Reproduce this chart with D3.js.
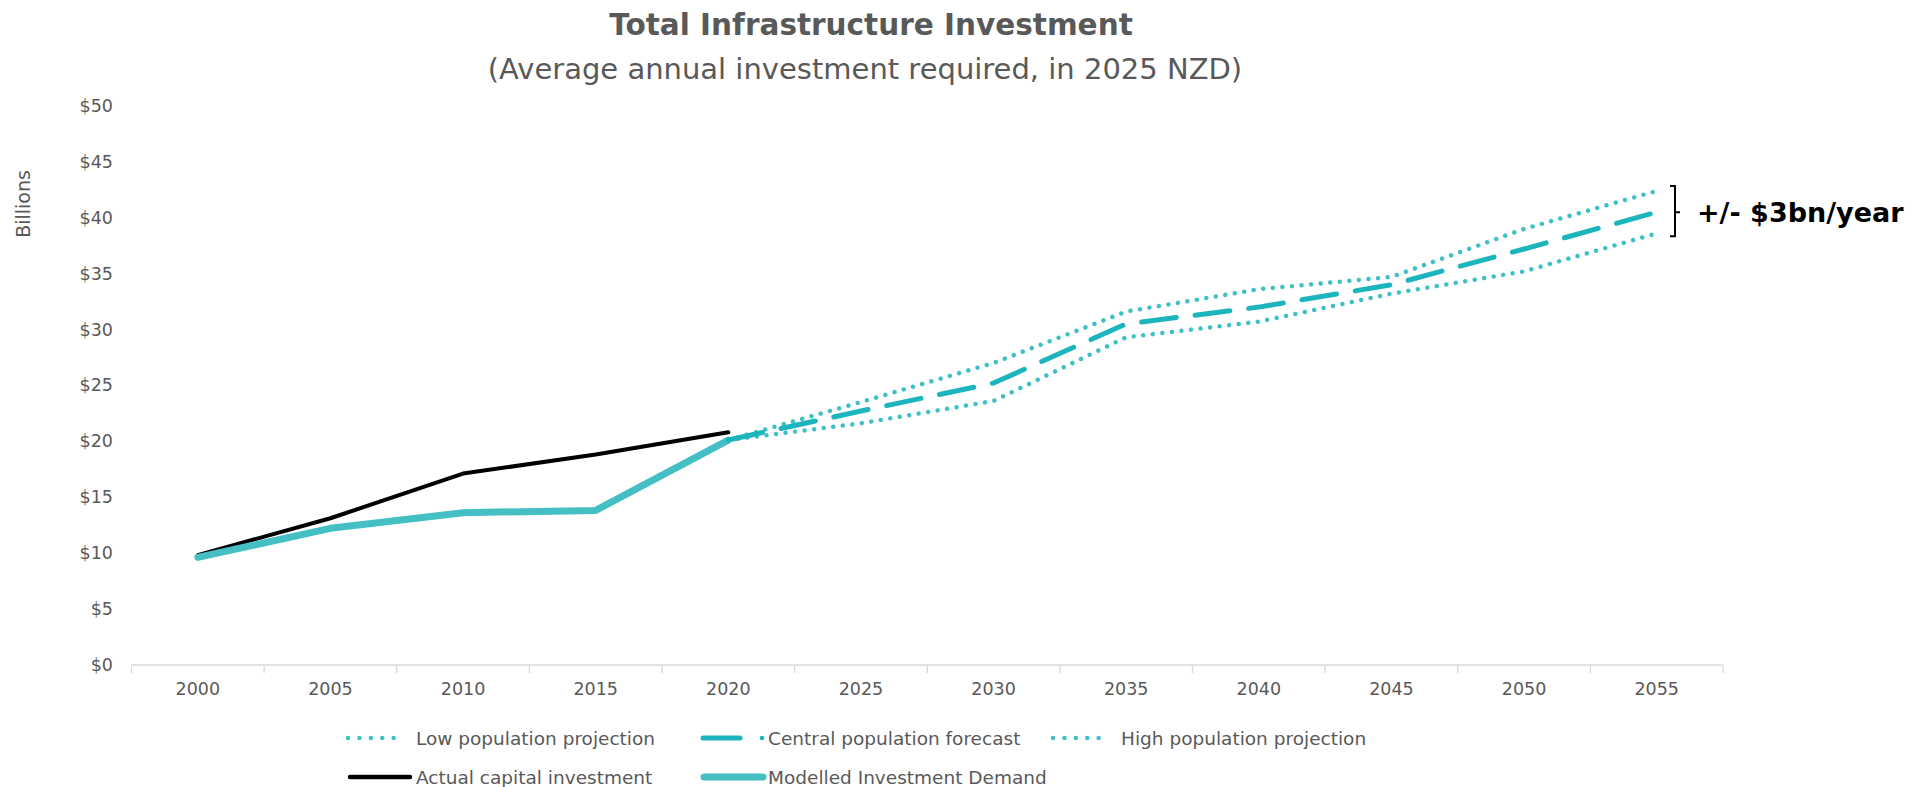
<!DOCTYPE html>
<html>
<head>
<meta charset="utf-8">
<script src="https://cdn.jsdelivr.net/npm/d3@7"></script>
<style>
	body { margin: 0; background: #ffffff; }
	svg text { font-family: "DejaVu Sans", Verdana, sans-serif; }
	.tick text { fill: #595959; font-size: 17.5px; }
</style>
</head>
<body>
<svg id="chart" width="1912" height="787"></svg>
<script>
// categories on the x axis
const years = ["2000","2005","2010","2015","2020","2025","2030","2035","2040","2045","2050","2055"];

// historic series (2000 - 2020)
const actualYears = ["2000","2005","2010","2015","2020"];
const actualValues = [9.8, 13.1, 17.1, 18.8, 20.8];
const modelledValues = [9.6, 12.2, 13.6, 13.8, 20.1];

// projections (2020 - 2055)
const projYears = ["2020","2025","2030","2035","2040","2045","2050","2055"];
const lowValues = [20.1, 21.6, 23.6, 29.3, 30.7, 33.2, 35.2, 38.6];
const centralValues = [20.1, 22.7, 25.2, 30.5, 32.0, 34.0, 37.2, 40.5];
const highValues = [20.1, 23.5, 27.0, 31.6, 33.6, 34.7, 39.0, 42.4];

const yTicks = [0, 5, 10, 15, 20, 25, 30, 35, 40, 45, 50];

const svg = d3.select("#chart");

const x = d3.scaleBand().domain(years).range([131.5, 1723]).padding(0);
const y = d3.scaleLinear().domain([0, 50]).range([664.6, 106]);
const cx = d => x(d) + x.bandwidth() / 2;

// titles
svg.append("text").attr("x", 871).attr("y", 35).attr("text-anchor", "middle")
	.style("font-size", "29.5px").style("font-weight", "bold").attr("fill", "#595959")
	.text("Total Infrastructure Investment");
svg.append("text").attr("x", 865).attr("y", 79).attr("text-anchor", "middle")
	.style("font-size", "29px").attr("fill", "#595959")
	.text("(Average annual investment required, in 2025 NZD)");

// y axis (labels only)
const yAxis = svg.append("g").attr("transform", "translate(113,0)")
	.call(d3.axisLeft(y).tickValues(yTicks).tickSize(0).tickPadding(0).tickFormat(d => "$" + d));
yAxis.select(".domain").remove();

svg.append("text").attr("transform", "translate(30,204) rotate(-90)")
	.attr("text-anchor", "middle").style("font-size", "19px").attr("fill", "#595959")
	.text("Billions");

// x axis, ticks between categories
const xg = svg.append("g").attr("transform", "translate(0,665)");
xg.append("line").attr("x1", x.range()[0]).attr("x2", x.range()[1])
	.attr("stroke", "#d9d9d9").attr("stroke-width", 1.3);
const bounds = years.map(d => x(d)).concat([x.range()[1]]);
xg.selectAll("line.tk").data(bounds).join("line").attr("class", "tk")
	.attr("x1", d => d).attr("x2", d => d).attr("y1", 0).attr("y2", 8)
	.attr("stroke", "#d9d9d9").attr("stroke-width", 1.3);
xg.selectAll("text").data(years).join("text")
	.attr("x", d => cx(d)).attr("y", 30).attr("text-anchor", "middle")
	.style("font-size", "17.5px").attr("fill", "#595959").text(d => d);

const line = d3.line().x(d => cx(d[0])).y(d => y(d[1]));

const dotted = { stroke: "#3fc0c6", width: 4.5, dash: "0.01 9.6", cap: "round" };
const dashed = { stroke: "#1db5bd", width: 5, dash: "35 19", cap: "round" };

function drawSeries(xs, vals, st) {
	svg.append("path").datum(d3.zip(xs, vals)).attr("d", line)
		.attr("fill", "none").attr("stroke", st.stroke).attr("stroke-width", st.width)
		.attr("stroke-dasharray", st.dash || null).attr("stroke-linecap", st.cap || "butt")
		.attr("stroke-linejoin", "round");
}

drawSeries(actualYears, actualValues, { stroke: "#000000", width: 4, cap: "round" });
drawSeries(actualYears, modelledValues, { stroke: "#44bfc4", width: 7, cap: "round" });
drawSeries(projYears, lowValues, dotted);
drawSeries(projYears, highValues, dotted);
drawSeries(projYears, centralValues, dashed);

// bracket annotation
const hiEnd = y(highValues[highValues.length - 1]);
const loEnd = y(lowValues[lowValues.length - 1]);
const bx = 1670, mid = (hiEnd + loEnd) / 2;
svg.append("path")
	.attr("d", `M${bx},${hiEnd - 5} H${bx + 5} V${loEnd + 3} H${bx} M${bx + 5},${mid} H${bx + 10}`)
	.attr("fill", "none").attr("stroke", "#000").attr("stroke-width", 2);
svg.append("text").attr("x", 1697).attr("y", mid + 10)
	.style("font-size", "27px").style("font-weight", "bold").attr("fill", "#000")
	.text("+/- $3bn/year");

// legend
const legend = [
	{ label: "Low population projection", x: 348, row: 0, type: "dots" },
	{ label: "Central population forecast", x: 701, row: 0, type: "dashdot" },
	{ label: "High population projection", x: 1053, row: 0, type: "dots" },
	{ label: "Actual capital investment", x: 348, row: 1, type: "black" },
	{ label: "Modelled Investment Demand", x: 701, row: 1, type: "teal" }
];
const rowY = [738, 777];
legend.forEach(l => {
	const g = svg.append("g").attr("transform", `translate(${l.x},${rowY[l.row]})`);
	let tx = 68;
	if (l.type === "dots") {
		g.append("line").attr("x1", 0).attr("x2", 57).attr("stroke", dotted.stroke)
			.attr("stroke-width", 4.5).attr("stroke-linecap", "round").attr("stroke-dasharray", "0.01 11.4");
		tx = 68;
	} else if (l.type === "dashdot") {
		g.append("line").attr("x1", 2).attr("x2", 39).attr("stroke", dashed.stroke)
			.attr("stroke-width", 5).attr("stroke-linecap", "round");
		g.append("circle").attr("cx", 61).attr("cy", 0).attr("r", 2.3).attr("fill", dashed.stroke);
		tx = 67;
	} else if (l.type === "black") {
		g.append("line").attr("x1", 2).attr("x2", 62).attr("stroke", "#000")
			.attr("stroke-width", 4.5).attr("stroke-linecap", "round");
	} else {
		g.append("line").attr("x1", 3).attr("x2", 62).attr("stroke", "#44bfc4")
			.attr("stroke-width", 7).attr("stroke-linecap", "round");
		tx = 67;
	}
	g.append("text").attr("x", tx).attr("y", 6.5).style("font-size", "18.5px")
		.attr("fill", "#595959").text(l.label);
});
</script>
</body>
</html>
